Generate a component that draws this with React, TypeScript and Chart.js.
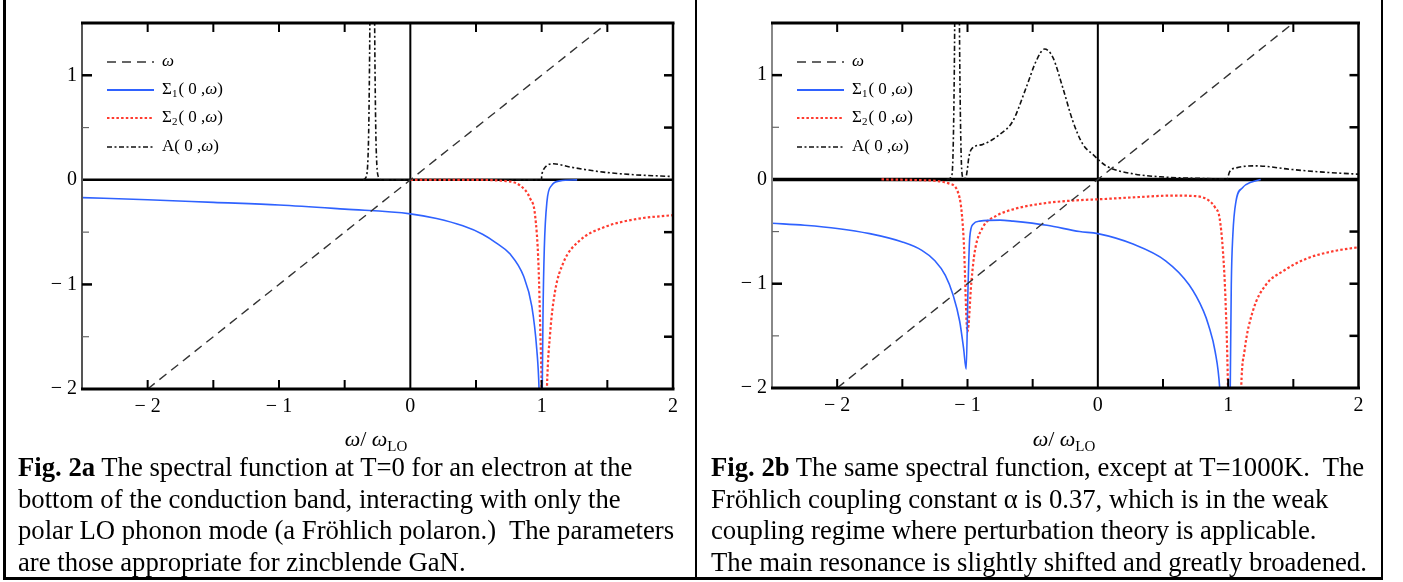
import React, { useEffect, useRef } from "react";
import { Chart, registerables } from "chart.js";

Chart.register(...registerables);

// ---------- tick labels ----------
const X_TICKS = [-2, -1, 0, 1, 2];
const Y_TICKS = [-2, -1, 0, 1];
const X_MINOR = [-2, -1.5, -1, -0.5, 0.5, 1, 1.5];
const Y_MINOR = [-1.5, -1, -0.5, 0.5, 1];

// ---------- legend labels ----------
const LEGEND_OMEGA = "ω";
const LEGEND_S1 = ["Σ", "1", "( 0 ,", "ω", ")"];
const LEGEND_S2 = ["Σ", "2", "( 0 ,", "ω", ")"];
const LEGEND_A = ["A", "", "( 0 ,", "ω", ")"];

// ---------- Fig. 2a (T = 0) ----------
const A_OMEGA_X = [-2, 1.5];
const A_OMEGA_Y = [-2, 1.5];

const A_S1_X = [-2.5, -2.0, -1.5, -1.0, -0.5, 0, 0.2, 0.4, 0.55, 0.65, 0.76, 0.862, 0.925, 0.963, 0.98, 0.99, 0.995, 1.0, 1.01, 1.02, 1.04, 1.075, 1.14, 1.27];
const A_S1_Y = [-0.17, -0.19, -0.215, -0.24, -0.28, -0.325, -0.37, -0.44, -0.52, -0.6, -0.71, -0.92, -1.21, -1.625, -2.0, -2.6, null, -2.6, -1.3, -0.66, -0.21, -0.055, -0.01, 0];

const A_S2_X = [0, 0.456, 0.71, 0.837, 0.913, 0.95, 0.976, 0.99, 1.0, 1.005, 1.02, 1.03, 1.04, 1.065, 1.1, 1.166, 1.29, 1.47, 1.72, 2.0];
const A_S2_Y = [0, 0, -0.01, -0.055, -0.18, -0.34, -0.82, -1.46, -2.0, -2.6, null, -2.6, -2.0, -1.46, -1.08, -0.79, -0.58, -0.455, -0.375, -0.337];

const A_A_X = [-0.36, -0.34, -0.32, -0.31, -0.3, -0.28, -0.27, -0.26, -0.24, -0.22, 0.999, 1.0, 1.005, 1.02, 1.05, 1.09, 1.22, 1.47, 1.72, 2.0];
const A_A_Y = [0, 0.02, 0.3, 1.2, 3, 3, 1.2, 0.3, 0.02, 0, 0, 0.03, 0.07, 0.11, 0.145, 0.154, 0.122, 0.074, 0.048, 0.032];

// ---------- Fig. 2b (T = 1000 K) ----------
const B_OMEGA_X = [-2, 1.5];
const B_OMEGA_Y = [-2, 1.5];

const B_S1_X = [-2.5, -2.25, -2.0, -1.75, -1.5, -1.35, -1.25, -1.17, -1.11, -1.06, -1.03, -1.01, -0.996, -0.983, -0.957, -0.906, -0.75, -0.65, -0.39, -0.14, 0, 0.27, 0.52, 0.7, 0.81, 0.85, 0.9, 0.935, 0.95, 0.98, 1.01, 1.016, 1.024, 1.036, 1.06, 1.11, 1.18, 1.25];
const B_S1_Y = [-0.42, -0.44, -0.47, -0.52, -0.6, -0.68, -0.78, -0.92, -1.11, -1.36, -1.62, -1.82, -1.04, -0.56, -0.43, -0.4, -0.39, -0.4, -0.44, -0.5, -0.52, -0.62, -0.78, -1.01, -1.26, -1.4, -1.65, -2.0, -2.4, null, -2.6, -2.0, -1.01, -0.53, -0.21, -0.08, -0.025, 0];

const B_S2_X = [-1.66, -1.29, -1.14, -1.06, -1.03, -1.0, -0.97, -0.944, -0.883, -0.78, -0.63, -0.42, -0.22, 0.09, 0.3, 0.575, 0.75, 0.85, 0.9, 0.934, 0.96, 0.98, 0.998, 1.005, 1.05, 1.09, 1.1, 1.125, 1.19, 1.29, 1.42, 1.6, 1.8, 2.0];
const B_S2_Y = [0, -0.01, -0.04, -0.18, -0.56, -1.46, -0.98, -0.69, -0.46, -0.35, -0.28, -0.23, -0.205, -0.185, -0.17, -0.155, -0.16, -0.2, -0.27, -0.37, -0.69, -1.17, -1.97, -2.6, null, -2.6, -2.0, -1.65, -1.26, -1.01, -0.88, -0.76, -0.69, -0.65];

const B_A_X = [-1.16, -1.125, -1.11, -1.1, -1.09, -1.07, -1.06, -1.05, -1.036, -1.015, -1.003, -0.99, -0.97, -0.883, -0.755, -0.652, -0.55, -0.473, -0.409, -0.345, -0.269, -0.192, -0.115, -0.038, 0.064, 0.27, 0.52, 0.78, 0.995, 1.0, 1.01, 1.06, 1.22, 1.48, 1.73, 2.0];
const B_A_Y = [0, 0.02, 0.3, 1.2, 3, 3, 1.2, 0.3, 0.02, 0.01, 0.08, 0.21, 0.29, 0.336, 0.43, 0.56, 0.88, 1.135, 1.25, 1.17, 0.88, 0.56, 0.336, 0.24, 0.13, 0.054, 0.022, 0.01, 0.005, 0.03, 0.07, 0.11, 0.13, 0.096, 0.07, 0.05];

// ---------- captions ----------
const CAPTION_A = [
  ["Fig. 2a", " The spectral function at T=0 for an electron at the"],
  ["", "bottom of the conduction band, interacting with only the"],
  ["", "polar LO phonon mode (a Fröhlich polaron.)\u00a0 The parameters"],
  ["", "are those appropriate for zincblende GaN."],
];
const CAPTION_B = [
  ["Fig. 2b", " The same spectral function, except at T=1000K.\u00a0 The"],
  ["", "Fröhlich coupling constant α is 0.37, which is in the weak"],
  ["", "coupling regime where perturbation theory is applicable."],
  ["", "The main resonance is slightly shifted and greatly broadened."],
];

const SERIF = '"Liberation Serif", "Times New Roman", serif';
const BLUE = "#2f62ff";
const RED = "#ff3b2f";

const pts = (xs: number[], ys: (number | null)[]) => xs.map((x, i) => ({ x, y: ys[i] }));
const fmt = (v: number) => (v < 0 ? "\u2212 " + Math.abs(v) : String(v));

type Run = { t: string; italic?: boolean; sub?: boolean };

function drawRuns(ctx: CanvasRenderingContext2D, x: number, y: number, runs: Run[]) {
  for (const r of runs) {
    if (!r.t) continue;
    ctx.font = `${r.italic ? "italic " : ""}${r.sub ? 11 : 17}px ${SERIF}`;
    ctx.fillText(r.t, x, y + (r.sub ? 4 : 0));
    x += ctx.measureText(r.t).width + (r.sub ? 1 : 0);
  }
}

const framePlugin = {
  id: "frame",
  beforeDatasetsDraw(chart: any, _args: any, opts: any) {
    const { ctx, chartArea: a, scales } = chart;
    const x0 = scales.x.getPixelForValue(0);
    const y0 = scales.y.getPixelForValue(0);
    ctx.save();
    ctx.strokeStyle = "#000";
    ctx.lineWidth = opts.zeroH;
    ctx.beginPath();
    ctx.moveTo(a.left, y0);
    ctx.lineTo(a.right, y0);
    ctx.stroke();
    ctx.lineWidth = 2;
    ctx.beginPath();
    ctx.moveTo(x0, a.top);
    ctx.lineTo(x0, a.bottom);
    ctx.stroke();
    ctx.restore();
  },
  afterDatasetsDraw(chart: any, _args: any, opts: any) {
    const { ctx, chartArea: a, scales } = chart;
    ctx.save();
    // frame
    ctx.strokeStyle = opts.leftColor;
    ctx.lineWidth = 2;
    ctx.beginPath();
    ctx.moveTo(a.left, a.top);
    ctx.lineTo(a.left, a.bottom);
    ctx.stroke();
    ctx.strokeStyle = "#000";
    ctx.lineWidth = 3;
    ctx.beginPath();
    ctx.moveTo(a.left - 1, a.top);
    ctx.lineTo(a.right + 1.5, a.top);
    ctx.moveTo(a.left - 1, a.bottom);
    ctx.lineTo(a.right + 1.5, a.bottom);
    ctx.stroke();
    ctx.lineWidth = 2.5;
    ctx.beginPath();
    ctx.moveTo(a.right, a.top);
    ctx.lineTo(a.right, a.bottom);
    ctx.stroke();
    // x ticks (inward)
    ctx.lineWidth = 2;
    ctx.beginPath();
    for (const v of X_MINOR) {
      const px = scales.x.getPixelForValue(v);
      ctx.moveTo(px, a.bottom);
      ctx.lineTo(px, a.bottom - 9);
      ctx.moveTo(px, a.top);
      ctx.lineTo(px, a.top + 9);
    }
    ctx.stroke();
    // y ticks
    for (const v of Y_MINOR) {
      const py = scales.y.getPixelForValue(v);
      const major = Number.isInteger(v);
      ctx.strokeStyle = major ? "#000" : "#666";
      ctx.lineWidth = major ? 2.5 : 1.2;
      ctx.beginPath();
      ctx.moveTo(a.left, py);
      ctx.lineTo(a.left + (major ? 10 : 7), py);
      ctx.stroke();
      ctx.strokeStyle = "#000";
      ctx.lineWidth = 2.5;
      ctx.beginPath();
      ctx.moveTo(a.right, py);
      ctx.lineTo(a.right - 9, py);
      ctx.stroke();
    }
    // legend
    const lx = a.left + 25;
    const lw = 47;
    const tx = a.left + 80;
    const rows = [a.top + 39, a.top + 67, a.top + 95, a.top + 124];
    const styles = [
      { c: "#333", w: 1.4, d: [9, 6] },
      { c: BLUE, w: 1.8, d: [] },
      { c: RED, w: 2.2, d: [2.5, 2.2] },
      { c: "#111", w: 1.6, d: [5, 2.5, 2, 2.5] },
    ];
    styles.forEach((s, i) => {
      ctx.strokeStyle = s.c;
      ctx.lineWidth = s.w;
      ctx.setLineDash(s.d);
      ctx.beginPath();
      ctx.moveTo(lx, rows[i]);
      ctx.lineTo(lx + lw, rows[i]);
      ctx.stroke();
    });
    ctx.setLineDash([]);
    ctx.fillStyle = "#000";
    ctx.textBaseline = "middle";
    ctx.textAlign = "left";
    drawRuns(ctx, tx, rows[0], [{ t: LEGEND_OMEGA, italic: true }]);
    [LEGEND_S1, LEGEND_S2, LEGEND_A].forEach((l, i) => {
      drawRuns(ctx, tx, rows[i + 1], [
        { t: l[0] },
        { t: l[1], sub: true },
        { t: l[2] },
        { t: l[3], italic: true },
        { t: l[4] },
      ]);
    });
    ctx.restore();
  },
};

type PanelProps = {
  left: number;
  width: number;
  height: number;
  yAxisWidth: number;
  padRight: number;
  padTop: number;
  xAxisHeight: number;
  leftColor: string;
  zeroH: number;
  omega: any;
  s1: any;
  s2: any;
  a: any;
};

function Panel(p: PanelProps) {
  const ref = useRef<HTMLCanvasElement | null>(null);
  useEffect(() => {
    if (!ref.current) return;
    const chart = new Chart(ref.current, {
      type: "line",
      data: {
        datasets: [
          { label: "omega", data: p.omega, borderColor: "#333", borderWidth: 1.4, borderDash: [9, 6], pointRadius: 0 },
          { label: "S1", data: p.s1, borderColor: BLUE, borderWidth: 1.6, pointRadius: 0, cubicInterpolationMode: "monotone" },
          { label: "S2", data: p.s2, borderColor: RED, borderWidth: 2.2, borderDash: [2.5, 2.2], pointRadius: 0, cubicInterpolationMode: "monotone" },
          { label: "A", data: p.a, borderColor: "#111", borderWidth: 1.6, borderDash: [5, 2.5, 2, 2.5], pointRadius: 0, cubicInterpolationMode: "monotone" },
        ],
      },
      options: {
        responsive: false,
        maintainAspectRatio: false,
        animation: false,
        devicePixelRatio: 1,
        layout: { padding: { left: 0, right: p.padRight, top: p.padTop, bottom: 0 } },
        plugins: {
          legend: { display: false },
          tooltip: { enabled: false },
          frame: { leftColor: p.leftColor, zeroH: p.zeroH },
        } as any,
        scales: {
          x: {
            type: "linear",
            min: -2.5,
            max: 2,
            grid: { display: false, drawTicks: false },
            border: { display: false },
            afterBuildTicks: (s: any) => {
              s.ticks = X_TICKS.map((v) => ({ value: v }));
            },
            afterFit: (s: any) => {
              s.height = p.xAxisHeight;
            },
            ticks: {
              color: "#000",
              padding: 6,
              maxRotation: 0,
              font: { family: SERIF, size: 20 },
              callback: (v: any) => fmt(Number(v)),
            },
          },
          y: {
            type: "linear",
            min: -2,
            max: 1.5,
            grid: { display: false, drawTicks: false },
            border: { display: false },
            afterBuildTicks: (s: any) => {
              s.ticks = Y_TICKS.map((v) => ({ value: v }));
            },
            afterFit: (s: any) => {
              s.width = p.yAxisWidth;
            },
            ticks: {
              color: "#000",
              padding: 5,
              font: { family: SERIF, size: 20 },
              callback: (v: any) => fmt(Number(v)),
            },
          },
        },
      },
      plugins: [framePlugin as any],
    });
    return () => chart.destroy();
  }, []);
  return (
    <canvas
      ref={ref}
      width={p.width}
      height={p.height}
      style={{ position: "absolute", left: p.left, top: 0, width: p.width, height: p.height, display: "block" }}
    />
  );
}

function AxisTitle({ center }: { center: number }) {
  return (
    <div
      style={{
        position: "absolute",
        left: center - 100,
        width: 200,
        top: 426,
        textAlign: "center",
        fontFamily: SERIF,
        fontSize: 22,
        lineHeight: "26px",
        whiteSpace: "nowrap",
      }}
    >
      <i>ω</i>/ <i>ω</i>
      <span style={{ fontSize: 15, position: "relative", top: 5 }}>LO</span>
    </div>
  );
}

function Caption({ left, lines }: { left: number; lines: string[][] }) {
  return (
    <div
      style={{
        position: "absolute",
        left,
        top: 452,
        fontFamily: SERIF,
        fontSize: 26.7,
        lineHeight: "31.5px",
        whiteSpace: "nowrap",
        color: "#000",
      }}
    >
      {lines.map((l, i) => (
        <div key={i}>
          {l[0] ? <b>{l[0]}</b> : null}
          {l[1]}
        </div>
      ))}
    </div>
  );
}

const line = (l: number, t: number, w: number, h: number) => (
  <div style={{ position: "absolute", left: l, top: t, width: w, height: h, background: "#000" }} />
);

export default function App() {
  return (
    <div
      style={{
        position: "absolute",
        left: 0,
        top: 0,
        width: 1403,
        height: 582,
        background: "#fff",
        overflow: "hidden",
      }}
    >
      <Panel
        left={0}
        width={695}
        height={430}
        yAxisWidth={82}
        padRight={22}
        padTop={23}
        xAxisHeight={41}
        leftColor="#555"
        zeroH={2.5}
        omega={pts(A_OMEGA_X, A_OMEGA_Y)}
        s1={pts(A_S1_X, A_S1_Y)}
        s2={pts(A_S2_X, A_S2_Y)}
        a={pts(A_A_X, A_A_Y)}
      />
      <Panel
        left={695}
        width={690}
        height={430}
        yAxisWidth={77}
        padRight={26.5}
        padTop={23}
        xAxisHeight={42}
        leftColor="#888"
        zeroH={3.5}
        omega={pts(B_OMEGA_X, B_OMEGA_Y)}
        s1={pts(B_S1_X, B_S1_Y)}
        s2={pts(B_S2_X, B_S2_Y)}
        a={pts(B_A_X, B_A_Y)}
      />
      <AxisTitle center={376} />
      <AxisTitle center={1064} />
      <Caption left={18} lines={CAPTION_A} />
      <Caption left={711} lines={CAPTION_B} />
      {line(3, 0, 2.5, 580)}
      {line(694.5, 0, 2.5, 580)}
      {line(1380.5, 0, 2.5, 580)}
      {line(3, 577, 1380, 2.5)}
    </div>
  );
}
